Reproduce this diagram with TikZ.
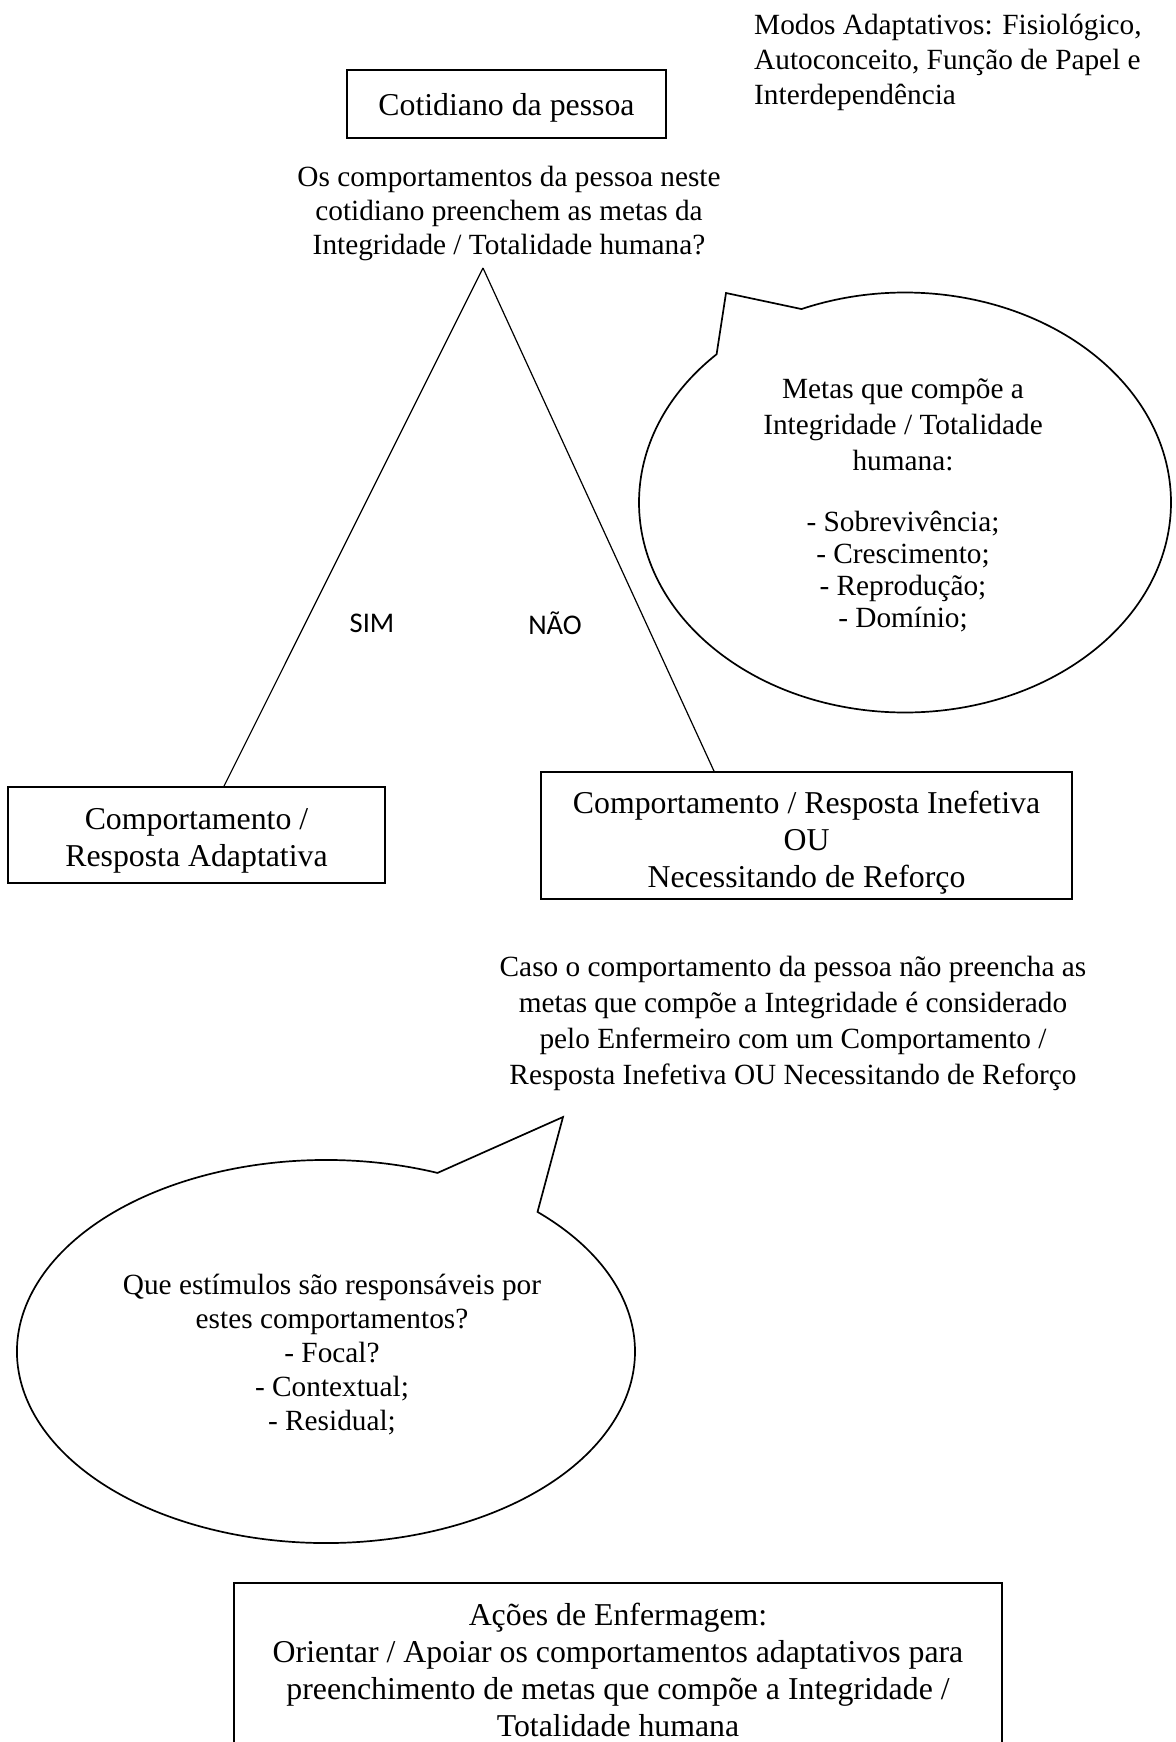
\documentclass[tikz,border=0pt]{standalone}
\usepackage{fontspec}
\setmainfont{Liberation Serif}
\newfontfamily\labelfont{Carlito}
\newcommand\topstrut[1]{\rule{0pt}{#1}}
\begin{document}
\begin{tikzpicture}[x=1pt,y=1pt,
  box/.style={draw, line width=1.8pt, inner sep=0pt, align=center,
    font=\fontsize{31.8pt}{37pt}\selectfont},
  txt/.style={inner sep=0pt, align=center},
  lbl/.style={inner sep=0pt, font=\labelfont\fontsize{28.5pt}{34pt}\selectfont},
  leg/.style={line width=1.2pt},
  balloon/.style={line width=1.7pt, line join=miter}]
\useasboundingbox (0,0) rectangle (1175,-1742);
\clip (0,0) rectangle (1175,-1742);

% top right note
\node[txt, align=left, anchor=west, font=\fontsize{29.3pt}{35pt}\selectfont] (modos) at (754,-62)
  {Modos Adaptativos: Fisiológico,\\Autoconceito, Função de Papel e\\Interdependência};

% top box
\node[box, minimum width=319pt, minimum height=68pt] (cot) at (506.5,-104)
  {\topstrut{29.7pt}Cotidiano da pessoa};

% question
\node[txt, font=\fontsize{29.3pt}{34pt}\selectfont] (quest) at (509,-213)
  {Os comportamentos da pessoa neste\\cotidiano preenchem as metas da\\Integridade / Totalidade humana?};

\coordinate (apex) at (483,-268);

% branch boxes
\node[box, minimum width=377pt, minimum height=96pt] (lbox) at (196.5,-835)
  {\topstrut{32pt}Comportamento /\\Resposta Adaptativa};
\node[box, minimum width=531pt, minimum height=127pt] (rbox) at (806.5,-835.5)
  {\topstrut{36pt}Comportamento / Resposta Inefetiva\\OU\\Necessitando de Reforço};

\draw[leg] (apex) -- ([xshift=27.5pt]lbox.north);
\draw[leg] (apex) -- ([xshift=-92.5pt]rbox.north);

\node[lbl] (sim) at (372,-623) {SIM};
\node[lbl] (nao) at (555,-623) {NÃO};

% upper balloon
\coordinate (uc) at (905,-502.5);
\coordinate (utip) at (726,-293);
\draw[balloon] (uc) ++(135.1:266pt and 210pt)
  arc[start angle=135.1, end angle=472.9, x radius=266pt, y radius=210pt]
  -- (utip) -- cycle;
\node[txt, font=\fontsize{29.3pt}{36pt}\selectfont] (metas) at (903,-505.5)
  {Metas que compõe a\\Integridade / Totalidade\\humana:\\[25pt]- Sobrevivência;\\[-4pt]- Crescimento;\\[-4pt]- Reprodução;\\[-4pt]- Domínio;};

% explanation
\node[txt, font=\fontsize{29.3pt}{36pt}\selectfont] (caso) at (793,-1023.5)
  {Caso o comportamento da pessoa não preencha as\\metas que compõe a Integridade é considerado\\pelo Enfermeiro com um Comportamento /\\Resposta Inefetiva OU Necessitando de Reforço};

% lower balloon
\coordinate (lc) at (326,-1351.5);
\coordinate (ltip) at (563,-1117);
\draw[balloon] (lc) ++(68.85:309pt and 191.5pt)
  arc[start angle=68.85, end angle=406.8, x radius=309pt, y radius=191.5pt]
  -- (ltip) -- cycle;
\node[txt, font=\fontsize{29.3pt}{34pt}\selectfont] (estim) at (332,-1355)
  {Que estímulos são responsáveis por\\estes comportamentos?\\- Focal?\\- Contextual;\\- Residual;};

% bottom box
\node[box, minimum width=768pt, minimum height=174pt] (acoes) at (618,-1670)
  {Ações de Enfermagem:\\Orientar / Apoiar os comportamentos adaptativos para\\preenchimento de metas que compõe a Integridade /\\Totalidade humana};
\end{tikzpicture}
\end{document}
